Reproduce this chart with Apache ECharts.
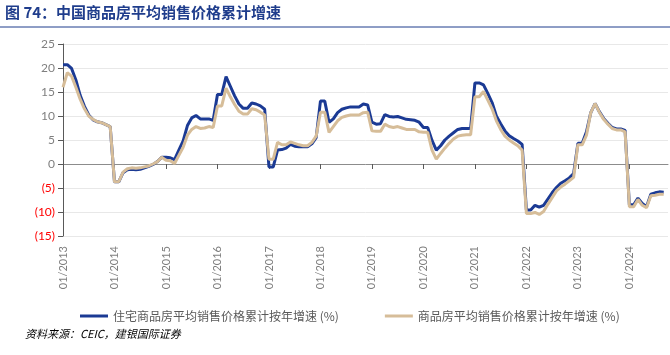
<!DOCTYPE html>
<html><head><meta charset="utf-8">
<script src="https://cdn.jsdelivr.net/npm/echarts@6/dist/echarts.min.js"></script>
<style>html,body{margin:0;padding:0;background:#fff}#c{width:670px;height:355px}</style>
</head><body><div id="c"></div>
<script>
// monthly categories 01/2013 .. 10/2024
var startYear = 2013, monthsCount = 142;
var categories = [];
for (var k = 0; k < monthsCount; k++) {
  var m = (k % 12) + 1, y = startYear + Math.floor(k / 12);
  categories.push((m < 10 ? '0' + m : '' + m) + '/' + y);
}
var seriesNames = ['住宅商品房平均销售价格累计按年增速 (%)', '商品房平均销售价格累计按年增速 (%)'];
var residential = [
  20.7, 20.7, 19.9, 17.5, 14.3, 12.0, 10.2, 9.2, 8.8, 8.6, 8.2, 7.8,
  -3.7, -3.7, -1.8, -1.2, -1.1, -1.2, -1.1, -0.8, -0.5, -0.1, 0.5, 1.4,
  1.4, 1.3, 0.9, 2.9, 4.8, 8.0, 9.6, 10.1, 9.4, 9.4, 9.4, 9.1,
  14.5, 14.5, 18.2, 16.2, 14.2, 12.5, 11.6, 11.6, 12.7, 12.5, 12.1, 11.4,
  -0.6, -0.6, 2.9, 3.0, 3.3, 4.1, 3.7, 3.6, 3.6, 3.6, 4.2, 5.5,
  13.1, 13.1, 8.7, 9.4, 10.7, 11.4, 11.7, 11.9, 11.9, 11.9, 12.5, 12.3,
  8.7, 8.3, 8.4, 10.3, 9.9, 9.8, 9.9, 9.6, 9.3, 9.2, 9.1, 8.7,
  7.6, 7.6, 4.9, 2.9, 3.8, 5.0, 5.8, 6.5, 7.2, 7.4, 7.4, 7.4,
  16.9, 16.9, 16.5, 14.7, 12.8, 10.0, 8.4, 6.9, 5.9, 5.3, 4.8, 4.1,
  -9.6, -9.6, -8.6, -9.0, -8.6, -7.3, -6.0, -4.9, -4.0, -3.5, -2.9, -2.0,
  4.3, 4.3, 6.7, 10.7, 12.6, 10.9, 9.5, 8.5, 7.6, 7.3, 7.3, 7.0,
  -8.5, -8.5, -7.1, -8.2, -8.9, -6.3, -6.0, -5.8, -5.9, null
];
var allHousing = [
  16.0, 19.0, 18.3, 16.0, 13.5, 11.5, 10.0, 9.3, 8.8, 8.6, 8.2, 7.8,
  -3.7, -3.7, -1.7, -1.0, -0.8, -0.9, -0.8, -0.6, -0.4, 0.0, 0.5, 1.4,
  0.8, 0.7, 0.1, 1.8, 3.5, 6.0, 7.2, 7.8, 7.4, 7.5, 7.8, 7.6,
  12.1, 12.1, 15.8, 14.0, 12.4, 11.0, 10.4, 10.4, 11.5, 11.3, 10.8, 10.2,
  1.0, 1.0, 4.5, 4.0, 4.0, 4.6, 4.3, 4.0, 3.8, 3.8, 4.5, 5.8,
  10.8, 10.8, 6.6, 7.8, 9.0, 9.7, 10.0, 10.2, 10.2, 10.2, 10.7, 10.8,
  6.9, 6.8, 6.8, 8.3, 7.8, 7.6, 7.8, 7.5, 7.2, 7.2, 7.2, 6.7,
  6.6, 6.6, 2.9, 1.0, 2.2, 3.3, 4.3, 5.2, 5.8, 6.0, 6.1, 6.1,
  14.0, 14.0, 15.1, 13.3, 11.5, 9.0, 7.2, 5.8, 5.0, 4.4, 3.8, 2.9,
  -10.3, -10.3, -10.1, -10.5, -9.9, -8.4, -7.0, -5.6, -4.8, -4.2, -3.5, -2.8,
  4.0, 4.0, 6.0, 10.7, 12.6, 10.8, 9.3, 8.3, 7.4, 7.1, 7.1, 6.7,
  -8.9, -8.9, -7.4, -8.6, -9.1, -6.6, -6.5, -6.3, -6.3, null
];
var yMin = -15, yMax = 25, yStep = 5;
var titleText = '图 74：中国商品房平均销售价格累计增速';
var sourceText = '资料来源：CEIC，建银国际证券';

var chart = echarts.init(document.getElementById('c'), null, {renderer: 'canvas'});
var yearStart = function (idx) { return idx % 12 === 0; };
chart.setOption({
  animation: false,
  backgroundColor: '#fff',
  grid: {left: 63, right: 2, top: 44, bottom: 119, containLabel: false},
  legend: {
    left: 75, top: 305, itemGap: 46, itemWidth: 28, itemHeight: 3,
    icon: 'rect',
    textStyle: {color: '#595959', fontSize: 12, fontFamily: 'Noto Sans CJK SC'},
    data: seriesNames
  },
  xAxis: [{
    type: 'category', data: categories, boundaryGap: false, position: 'bottom',
    axisLine: {onZero: true, lineStyle: {color: '#8c8c8c', width: 1}},
    axisTick: {show: true, interval: yearStart, length: 5, lineStyle: {color: '#595959'}},
    axisLabel: {show: false},
    splitLine: {show: false}
  }, {
    type: 'category', data: categories, boundaryGap: false, position: 'bottom',
    axisLine: {show: false, onZero: false}, axisTick: {show: false},
    axisLabel: {show: true, interval: yearStart, rotate: 90, margin: 10,
      color: '#7f7f7f', fontSize: 11, fontFamily: 'Lato'},
    splitLine: {show: false}
  }],
  yAxis: {
    type: 'value', min: yMin, max: yMax, interval: yStep,
    axisLine: {show: true, lineStyle: {color: '#595959', width: 1}},
    axisTick: {show: true, length: 5, lineStyle: {color: '#595959'}},
    axisLabel: {
      fontSize: 12, fontFamily: 'Lato', margin: 8,
      formatter: function (v) { return v < 0 ? '(' + (-v) + ')' : '' + v; },
      color: function (v) { return Number(v) < 0 ? '#ff0000' : '#7f7f7f'; }
    },
    splitLine: {lineStyle: {color: '#e8e8e8', width: 1}}
  },
  series: [{
    name: seriesNames[0], type: 'line', data: residential, xAxisIndex: 0,
    showSymbol: false, symbol: 'none', lineStyle: {color: '#1b3a94', width: 3},
    itemStyle: {color: '#1b3a94'}, z: 2
  }, {
    name: seriesNames[1], type: 'line', data: allHousing, xAxisIndex: 0,
    showSymbol: false, symbol: 'none', lineStyle: {color: '#d6bd99', width: 3},
    itemStyle: {color: '#d6bd99'}, z: 3
  }],
  graphic: [
    {type: 'text', left: 5, top: 5, style: {text: titleText, fill: '#1f3d8c',
      font: 'bold 15px "Noto Sans CJK SC"'}},
    {type: 'line', shape: {x1: 0, y1: 27, x2: 670, y2: 27}, style: {stroke: '#1f3d8c', lineWidth: 1}},
    {type: 'text', left: 25, top: 328, style: {text: sourceText, fill: '#000',
      font: 'italic 11px "Noto Sans CJK SC"'}}
  ]
});
</script></body></html>
